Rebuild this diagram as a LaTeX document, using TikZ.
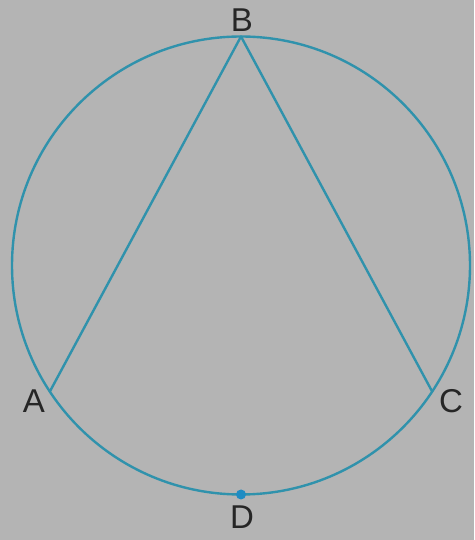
\documentclass[tikz,border=0pt]{standalone}
\usepackage{fontspec}
\setmainfont{Liberation Sans}
\usepackage{xcolor}
\usetikzlibrary{calc}
\definecolor{bggray}{RGB}{180,180,180}
\definecolor{chord}{RGB}{48,146,172}
\definecolor{dotblue}{RGB}{30,140,195}

\begin{document}
\begin{tikzpicture}[
  x=1pt, y=1pt,
  curve/.style={draw=chord, line width=2.4pt},
  letter/.style={font=\fontsize{33}{33}\selectfont, text=black!85, inner sep=0pt}
]
\fill[bggray] (0,0) rectangle (474,540);
\useasboundingbox (0,0) rectangle (474,540);

\coordinate (O) at (241,274.5);
\coordinate (A) at ($(O)+(213.4:229)$);
\coordinate (B) at ($(O)+(90:229)$);
\coordinate (C) at ($(O)+(326.6:229)$);
\coordinate (D) at ($(O)+(270:229)$);

\draw[curve] (O) circle[radius=229];
\draw[curve, line join=round] (A) -- (B) -- (C);
\fill[dotblue] (D) circle[radius=5];

\node[letter] (labB) at (242,520) {B};
\node[letter] (labA) at (34,139) {A};
\node[letter] (labC) at (451,139) {C};
\node[letter] (labD) at (242,23) {D};
\end{tikzpicture}
\end{document}
